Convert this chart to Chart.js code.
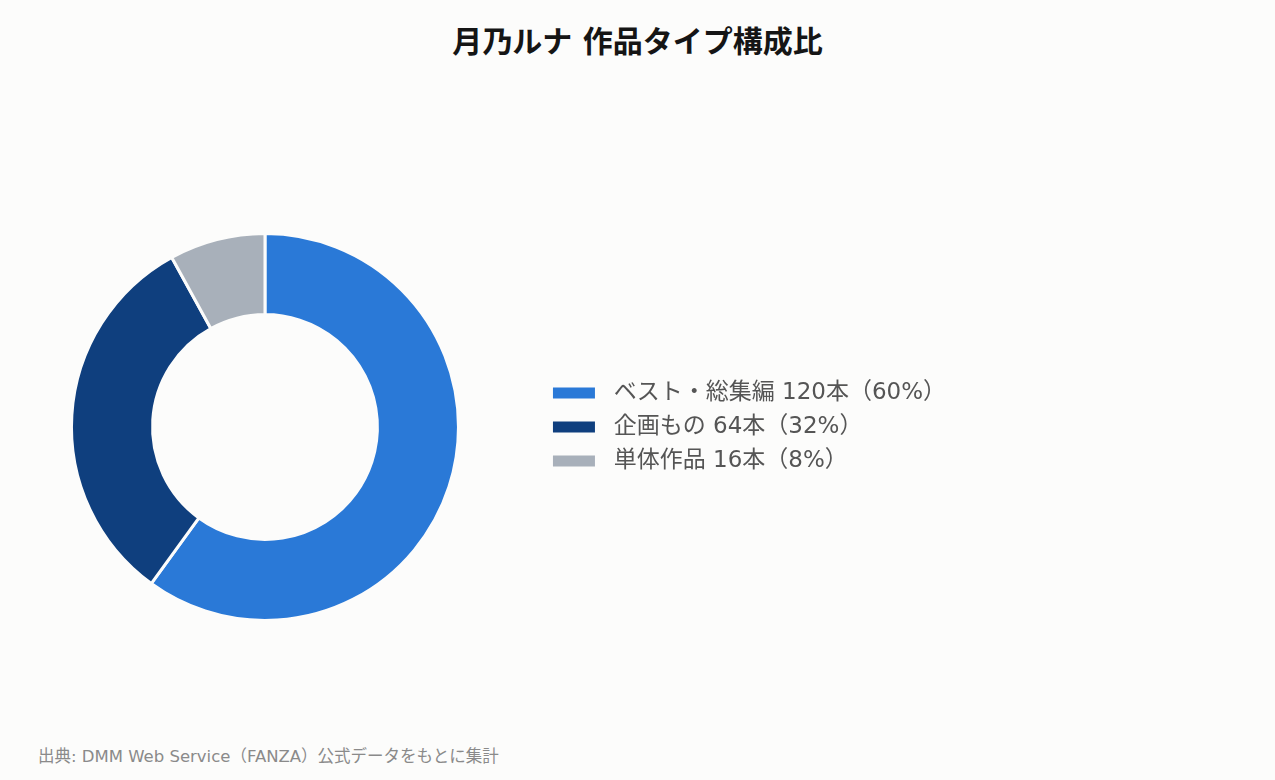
<!DOCTYPE html>
<html lang="ja">
<head>
<meta charset="utf-8">
<script src="https://cdn.jsdelivr.net/npm/chart.js@4.4.1/dist/chart.umd.min.js"></script>
<style>
  html, body { margin: 0; padding: 0; background: #fcfcfb; }
  body { width: 1275px; height: 780px; position: relative; overflow: hidden;
         font-family: 'DejaVu Sans', 'Noto Sans CJK JP', sans-serif; }
  #title { position: absolute; left: 0; width: 1275px; top: 24px; line-height: 36px;
           text-align: center; font-size: 30px; font-weight: bold; color: #151515; }
  #source { position: absolute; left: 38px; top: 747px; line-height: 20px;
            font-size: 16.5px; color: #8a8a8a; }
  #box { position: absolute; left: -12px; top: 227px; width: 1000px; height: 400px; }
</style>
</head>
<body>
<div id="title">月乃ルナ 作品タイプ構成比</div>
<div id="box"><canvas id="myChart"></canvas></div>
<div id="source">出典: DMM Web Service（FANZA）公式データをもとに集計</div>
<script>
// 作品タイプ別の本数
const types = ['ベスト・総集編', '企画もの', '単体作品']
const counts = [120, 64, 16]
const shares = [60, 32, 8]
const colors = ['#2a79d7', '#0f3f7e', '#a8b0ba']

const labels = types.map((t, i) => t + ' ' + counts[i] + '本（' + shares[i] + '%）')

const data = {
  labels: labels,
  datasets: [
    {
      data: counts,
      backgroundColor: colors,
      borderColor: '#fcfcfb',
      borderWidth: 3,
      hoverOffset: 0
    }
  ]
}

const config = {
  type: 'doughnut',
  data: data,
  options: {
    responsive: true,
    maintainAspectRatio: false,
    animation: false,
    radius: 193.5,
    cutout: '58.1%',
    layout: { padding: 0 },
    plugins: {
      legend: {
        position: 'right',
        labels: {
          boxWidth: 42,
          boxHeight: 11,
          padding: 11,
          color: '#555555',
          font: { family: "'DejaVu Sans', 'Noto Sans CJK JP', sans-serif", size: 23 },
          generateLabels: (chart) => {
            const base = Chart.overrides.doughnut.plugins.legend.labels.generateLabels(chart)
            return base.map((item) => ({ ...item, text: ' ' + item.text, lineWidth: 0 }))
          }
        }
      },
      tooltip: { enabled: false }
    }
  }
}

const myChart = new Chart(document.getElementById('myChart'), config)

// chart area must end where the legend starts (x = 542 on the page)
const box = document.getElementById('box')
box.style.width = (554 + myChart.legend.width) + 'px'
myChart.resize()
</script>
</body>
</html>
